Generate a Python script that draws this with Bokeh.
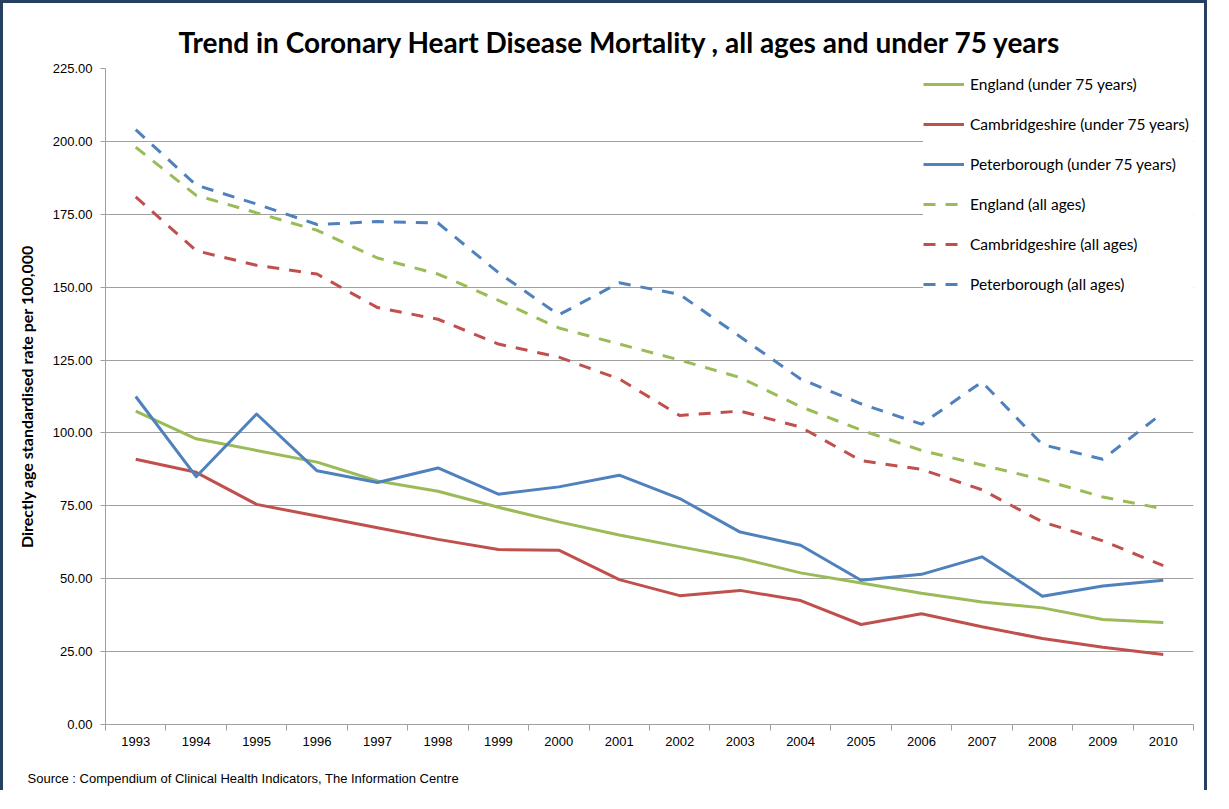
from bokeh.plotting import figure
from bokeh.models import (FixedTicker, Legend, LegendItem, NumeralTickFormatter, Range1d, Title)
from bokeh.embed import file_html
from bokeh.resources import INLINE

years = list(range(1993, 2011))
england_u75 = [107.5, 98, 94, 90, 83.5, 80, 74.5, 69.5, 65, 61, 57, 52, 48.5, 45, 42, 40, 36, 35]
cambs_u75 = [91, 86.5, 75.5, 71.5, 67.5, 63.5, 60, 59.8, 49.7, 44.2, 46, 42.5, 34.3, 38, 33.5, 29.5, 26.5, 24]
peterb_u75 = [112.5, 85, 106.5, 87, 83, 88, 79, 81.5, 85.5, 77.5, 66, 61.5, 49.5, 51.5, 57.5, 44, 47.5, 49.5]
england_all = [198, 181.5, 175.5, 169.5, 160, 154.5, 145.5, 136, 130.5, 125, 119, 109, 101, 94, 89, 84, 78, 74]
cambs_all = [181, 162.5, 157.5, 154.5, 143, 139, 130.5, 126, 118.5, 106, 107.5, 102, 90.5, 87.5, 80.5, 69.5, 63, 54.5]
peterb_all = [204, 185, 178.5, 171.5, 172.5, 172, 155, 140.5, 151.5, 147.5, 133, 118.5, 110, 103, 117.5, 96, 91, 107]
y_ticks = [0, 25, 50, 75, 100, 125, 150, 175, 200, 225]

series = [
    ("England (under 75 years)", england_u75, "#9BBB59", "solid"),
    ("Cambridgeshire (under 75 years)", cambs_u75, "#C0504D", "solid"),
    ("Peterborough (under 75 years)", peterb_u75, "#4F81BD", "solid"),
    ("England (all ages)", england_all, "#9BBB59", "12 10"),
    ("Cambridgeshire (all ages)", cambs_all, "#C0504D", "12 10"),
    ("Peterborough (all ages)", peterb_all, "#4F81BD", "12 10"),
]

GRID = "#A0A0A0"
NAVY = "#243F60"

p = figure(width=1207, height=790, output_backend="svg", toolbar_location=None,
           x_range=Range1d(years[0] - 0.5, years[-1] + 0.5),
           y_range=Range1d(y_ticks[0], y_ticks[-1]),
           min_border_left=102, min_border_right=17, min_border_top=65, min_border_bottom=69)
p.styles = {"border-top": f"3px solid {NAVY}", "border-left": f"3px solid {NAVY}",
            "border-right": f"3px solid {NAVY}"}
p.outline_line_color = None
p.background_fill_color = "white"
p.border_fill_color = "white"

# title
p.title.text = "Trend in Coronary Heart Disease Mortality , all ages and under 75 years"
p.title.align = "left"
p.title.offset = 73
p.title.text_font = "Lato"
p.title.text_font_style = "bold"
p.title.text_font_size = "28px"
p.title.text_color = "black"
p.title.standoff = 20

# x axis
p.xaxis.ticker = FixedTicker(ticks=years, minor_ticks=[y - 0.5 for y in years] + [years[-1] + 0.5])
p.xaxis.major_tick_line_color = None
p.xaxis.major_tick_out = 6
p.xaxis.minor_tick_line_color = GRID
p.xaxis.minor_tick_out = 6
p.xaxis.minor_tick_in = 0
p.xaxis.major_label_standoff = 6
p.xaxis.axis_line_color = GRID
p.xaxis.major_label_text_font = "Liberation Sans"
p.xaxis.major_label_text_font_size = "13px"
p.xaxis.major_label_text_color = "black"
# blank spacer label, keeps the source note low in the panel
p.xaxis.axis_label = " "
p.xaxis.axis_label_text_font_size = "15px"
p.xaxis.axis_label_standoff = 0
p.xgrid.grid_line_color = None

# y axis
p.yaxis.ticker = FixedTicker(ticks=y_ticks, minor_ticks=[])
p.yaxis.formatter = NumeralTickFormatter(format="0.00")
p.yaxis.major_tick_out = 5
p.yaxis.major_tick_in = 0
p.yaxis.major_tick_line_color = GRID
p.yaxis.axis_line_color = GRID
p.yaxis.major_label_standoff = 8
p.yaxis.major_label_text_font = "Liberation Sans"
p.yaxis.major_label_text_font_size = "13px"
p.yaxis.major_label_text_color = "black"
p.yaxis.axis_label = "Directly age standardised rate per 100,000"
p.yaxis.axis_label_text_font = "Lato"
p.yaxis.axis_label_text_font_style = "bold"
p.yaxis.axis_label_text_font_size = "16px"
p.yaxis.axis_label_text_color = "black"
p.yaxis.axis_label_standoff = 14
p.ygrid.ticker = FixedTicker(ticks=y_ticks)
p.ygrid.grid_line_color = GRID
p.ygrid.grid_line_width = 1

items = []
for name, vals, color, dash in series:
    r = p.line(years, vals, line_color=color, line_width=3, line_dash=dash,
               line_join="round")
    items.append(LegendItem(label=name, renderers=[r]))

legend = Legend(items=items, location="top_right", margin=0, padding=7, spacing=8,
                glyph_width=41, glyph_height=32, label_height=32, label_standoff=6,
                label_width=223, background_fill_color="white", background_fill_alpha=1,
                border_line_color=None, label_text_font="Lato", label_text_font_size="15.5px",
                label_text_color="black")
p.add_layout(legend)

source = Title(text="Source : Compendium of Clinical Health Indicators, The Information Centre",
               align="left", offset=-78, text_font="Liberation Sans", text_font_style="normal",
               text_font_size="13px", text_color="black", standoff=0)
p.add_layout(source, "below")

open("out.html", "w").write(file_html(p, INLINE))
